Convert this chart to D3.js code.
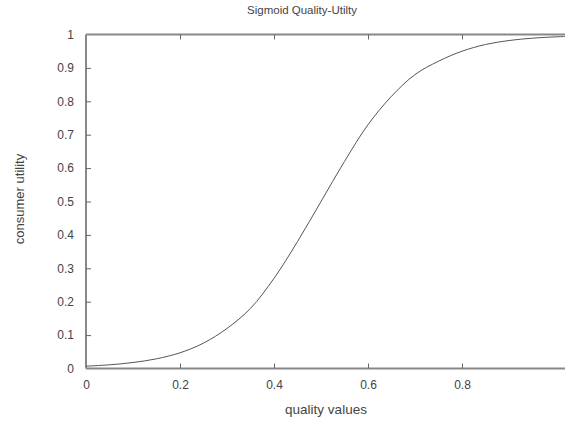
<!DOCTYPE html>
<html><head><meta charset="utf-8">
<script src="https://cdn.jsdelivr.net/npm/d3@7"></script>
<style>body{margin:0;background:#fff}svg{display:block}text{font-family:"Liberation Sans",Arial,sans-serif;fill:#444}</style>
</head><body>
<svg id="c" width="565" height="427"></svg>
<script>
const qualityValues = [0,0.05,0.1,0.15,0.2,0.25,0.3,0.35,0.4,0.45,0.5,0.55,0.6,0.65,0.7,0.75,0.8,0.85,0.9,0.95,1.0,1.02];
const utilityValues = [0.007,0.011,0.018,0.029,0.047,0.076,0.12,0.18,0.27,0.38,0.5,0.62,0.73,0.815,0.88,0.92,0.95,0.97,0.982,0.989,0.993,0.994];
const xTicks = [0,0.2,0.4,0.6,0.8];
const yTicks = [0,0.1,0.2,0.3,0.4,0.5,0.6,0.7,0.8,0.9,1];
const title = "Sigmoid Quality-Utilty";
const xLabel = "quality values";
const yLabel = "consumer utility";

const svg = d3.select("#c");
const L=86, R=565, T=34.5, B=368.5;
const x = d3.scaleLinear().domain([0,1]).range([L,556]);
const y = d3.scaleLinear().domain([0,1]).range([B,T]);

svg.append("line").attr("x1",L).attr("x2",R).attr("y1",B).attr("y2",B).attr("stroke","#888").attr("stroke-width",2);
svg.append("line").attr("x1",L).attr("x2",R).attr("y1",T).attr("y2",T).attr("stroke","#888").attr("stroke-width",2);
svg.append("line").attr("x1",L).attr("x2",L).attr("y1",T).attr("y2",B).attr("stroke","#888").attr("stroke-width",2);

const fmt = d => d===0?"0":(d===1?"1":String(d));
const ax = svg.append("g").attr("transform",`translate(0,${B})`).call(d3.axisBottom(x).tickValues(xTicks).tickSize(-5).tickPadding(12).tickFormat(fmt));
const axTop = svg.append("g").attr("transform",`translate(0,${T})`).call(d3.axisTop(x).tickValues(xTicks.slice(1)).tickSize(-5).tickFormat(""));
const ay = svg.append("g").attr("transform",`translate(${L},0)`).call(d3.axisLeft(y).tickValues(yTicks).tickSize(-5).tickPadding(12).tickFormat(fmt));
[ax,axTop,ay].forEach(g=>{
  g.select(".domain").remove();
  g.selectAll(".tick line").attr("stroke","#666");
  g.selectAll("text").attr("font-size",12).attr("fill","#444").style("font-family","Liberation Sans, Arial, sans-serif");
});
ay.selectAll(".tick").filter(d=>d===0||d===1).select("line").remove();
ax.selectAll(".tick").filter(d=>d===0).select("line").remove();

const line = d3.line().x((d,i)=>x(qualityValues[i])).y(d=>y(d)).curve(d3.curveCatmullRom);
svg.append("path").datum(utilityValues).attr("d",line).attr("fill","none").attr("stroke","#555").attr("stroke-width",1);

svg.append("text").attr("x",302).attr("y",14).attr("text-anchor","middle").attr("font-size",11.5).text(title);
svg.append("text").attr("x",326).attr("y",414).attr("text-anchor","middle").attr("font-size",13.5).text(xLabel);
svg.append("text").attr("transform","translate(24,199) rotate(-90)").attr("text-anchor","middle").attr("font-size",13).text(yLabel);
</script>
</body></html>
